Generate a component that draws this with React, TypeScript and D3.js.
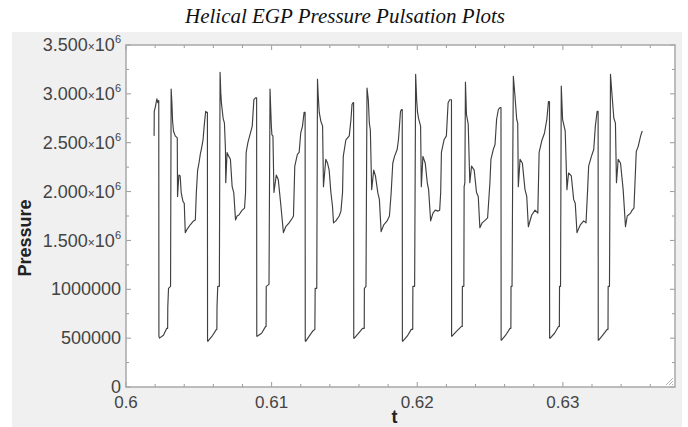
import React from "react";
import * as d3 from "d3";

type Pt = [number, number];

// Helical EGP pressure samples, [t (s), pressure (Pa)], grouped per pulsation cycle
const cycle0: Pt[] = [[0.60193,2.57e6],[0.60194,2.82e6],[0.60202,2.87e6],[0.60212,2.95e6],[0.60218,2.91e6],[0.60223,2.93e6],[0.60225,2.93e6]];
const cycle1: Pt[] = [[0.60226,0.52e6],[0.60230,0.50e6],[0.60257,0.53e6],[0.60280,0.60e6],[0.60286,0.60e6],[0.60287,0.82e6],[0.60292,1.01e6],[0.60306,1.03e6],[0.60310,3.05e6],[0.60315,2.92e6],[0.60320,2.72e6],[0.60326,2.62e6],[0.60338,2.57e6],[0.60352,2.55e6],[0.60354,1.95e6],[0.60363,2.17e6],[0.60372,2.16e6],[0.60379,1.99e6],[0.60391,1.90e6],[0.60400,1.88e6],[0.60407,1.58e6],[0.60418,1.61e6],[0.60441,1.66e6],[0.60464,1.70e6],[0.60476,1.71e6],[0.60483,1.99e6],[0.60492,2.22e6],[0.60501,2.29e6],[0.60510,2.38e6],[0.60517,2.43e6],[0.60529,2.53e6],[0.60538,2.69e6],[0.60547,2.82e6],[0.60556,2.81e6],[0.60559,2.81e6]];
const cycle2: Pt[] = [[0.60560,0.47e6],[0.60563,0.47e6],[0.60591,0.52e6],[0.60621,0.59e6],[0.60624,0.59e6],[0.60625,0.82e6],[0.60630,1.03e6],[0.60641,1.03e6],[0.60646,3.22e6],[0.60651,3.01e6],[0.60655,2.91e6],[0.60667,2.75e6],[0.60676,2.70e6],[0.60683,2.43e6],[0.60685,2.09e6],[0.60694,2.40e6],[0.60706,2.36e6],[0.60717,2.33e6],[0.60729,2.05e6],[0.60740,1.99e6],[0.60752,1.71e6],[0.60763,1.75e6],[0.60775,1.76e6],[0.60798,1.81e6],[0.60814,1.83e6],[0.60821,1.99e6],[0.60825,2.40e6],[0.60837,2.50e6],[0.60851,2.58e6],[0.60867,2.67e6],[0.60878,2.94e6],[0.60890,2.96e6],[0.60897,2.96e6]];
const cycle3: Pt[] = [[0.60898,0.52e6],[0.60901,0.52e6],[0.60931,0.55e6],[0.60959,0.62e6],[0.60962,0.62e6],[0.60963,1.03e6],[0.60982,1.05e6],[0.60989,3.05e6],[0.60998,2.67e6],[0.61002,2.58e6],[0.61009,2.57e6],[0.61016,1.99e6],[0.61032,2.17e6],[0.61046,2.12e6],[0.61062,1.88e6],[0.61081,1.58e6],[0.61097,1.64e6],[0.61120,1.68e6],[0.61143,1.73e6],[0.61150,1.75e6],[0.61159,2.26e6],[0.61177,2.38e6],[0.61189,2.40e6],[0.61200,2.60e6],[0.61212,2.67e6],[0.61223,2.81e6],[0.61230,2.81e6]];
const cycle4: Pt[] = [[0.61231,0.47e6],[0.61235,0.47e6],[0.61258,0.52e6],[0.61281,0.57e6],[0.61297,0.59e6],[0.61299,1.01e6],[0.61310,1.01e6],[0.61315,3.15e6],[0.61320,2.98e6],[0.61327,2.81e6],[0.61338,2.72e6],[0.61350,2.67e6],[0.61356,2.05e6],[0.61372,2.33e6],[0.61384,2.29e6],[0.61395,2.22e6],[0.61407,1.99e6],[0.61418,1.85e6],[0.61425,1.68e6],[0.61441,1.70e6],[0.61464,1.75e6],[0.61476,1.80e6],[0.61487,1.99e6],[0.61492,2.36e6],[0.61510,2.53e6],[0.61533,2.57e6],[0.61545,2.74e6],[0.61552,2.89e6],[0.61559,2.91e6],[0.61563,2.91e6]];
const cycle5: Pt[] = [[0.61564,0.50e6],[0.61568,0.50e6],[0.61596,0.55e6],[0.61625,0.60e6],[0.61636,0.60e6],[0.61637,1.01e6],[0.61648,1.03e6],[0.61655,3.06e6],[0.61664,2.94e6],[0.61671,2.70e6],[0.61678,2.63e6],[0.61687,2.02e6],[0.61701,2.22e6],[0.61713,2.16e6],[0.61729,1.99e6],[0.61740,1.92e6],[0.61752,1.59e6],[0.61770,1.66e6],[0.61793,1.70e6],[0.61809,1.75e6],[0.61821,1.99e6],[0.61832,2.29e6],[0.61844,2.36e6],[0.61862,2.43e6],[0.61871,2.53e6],[0.61885,2.82e6],[0.61892,2.84e6],[0.61897,2.84e6]];
const cycle6: Pt[] = [[0.61898,0.47e6],[0.61901,0.47e6],[0.61931,0.52e6],[0.61959,0.59e6],[0.61969,0.59e6],[0.61970,1.03e6],[0.61982,1.03e6],[0.61989,3.20e6],[0.61996,2.94e6],[0.62002,2.81e6],[0.62009,2.75e6],[0.62023,2.67e6],[0.62028,2.05e6],[0.62039,2.36e6],[0.62055,2.29e6],[0.62069,2.09e6],[0.62078,2.02e6],[0.62092,1.70e6],[0.62108,1.78e6],[0.62124,1.81e6],[0.62143,1.80e6],[0.62154,1.81e6],[0.62161,1.99e6],[0.62166,2.40e6],[0.62184,2.53e6],[0.62200,2.57e6],[0.62212,2.91e6],[0.62223,2.94e6],[0.62235,2.94e6]];
const cycle7: Pt[] = [[0.62236,0.52e6],[0.62239,0.52e6],[0.62269,0.57e6],[0.62304,0.62e6],[0.62309,0.62e6],[0.62310,1.03e6],[0.62320,1.03e6],[0.62322,2.05e6],[0.62327,2.09e6],[0.62331,3.12e6],[0.62338,2.79e6],[0.62350,2.69e6],[0.62361,2.09e6],[0.62373,2.26e6],[0.62391,2.22e6],[0.62407,1.99e6],[0.62419,1.95e6],[0.62430,1.63e6],[0.62446,1.68e6],[0.62469,1.71e6],[0.62483,1.73e6],[0.62499,2.09e6],[0.62506,2.33e6],[0.62522,2.43e6],[0.62534,2.48e6],[0.62545,2.74e6],[0.62557,2.84e6],[0.62568,2.86e6],[0.62575,2.86e6]];
const cycle8: Pt[] = [[0.62576,0.48e6],[0.62579,0.48e6],[0.62607,0.53e6],[0.62637,0.60e6],[0.62643,0.60e6],[0.62644,1.03e6],[0.62651,1.03e6],[0.62655,2.09e6],[0.62660,3.18e6],[0.62671,2.98e6],[0.62683,2.74e6],[0.62690,2.70e6],[0.62694,2.05e6],[0.62706,2.33e6],[0.62722,2.29e6],[0.62740,2.02e6],[0.62752,1.95e6],[0.62763,1.64e6],[0.62786,1.76e6],[0.62809,1.81e6],[0.62828,1.78e6],[0.62837,2.40e6],[0.62855,2.52e6],[0.62874,2.60e6],[0.62890,2.74e6],[0.62901,2.92e6],[0.62908,2.92e6]];
const cycle9: Pt[] = [[0.62909,0.50e6],[0.62913,0.50e6],[0.62943,0.55e6],[0.62970,0.62e6],[0.62976,0.62e6],[0.62977,1.03e6],[0.62984,1.03e6],[0.62989,3.08e6],[0.62998,2.74e6],[0.63016,2.62e6],[0.63028,2.02e6],[0.63039,2.19e6],[0.63058,2.16e6],[0.63074,1.92e6],[0.63085,1.88e6],[0.63097,1.58e6],[0.63120,1.66e6],[0.63143,1.70e6],[0.63159,1.68e6],[0.63170,2.02e6],[0.63177,2.26e6],[0.63196,2.36e6],[0.63212,2.43e6],[0.63223,2.67e6],[0.63235,2.82e6],[0.63242,2.82e6]];
const cycle10: Pt[] = [[0.63243,0.48e6],[0.63246,0.48e6],[0.63274,0.53e6],[0.63304,0.59e6],[0.63310,0.59e6],[0.63311,1.03e6],[0.63320,1.03e6],[0.63327,3.20e6],[0.63338,2.98e6],[0.63350,2.75e6],[0.63361,2.70e6],[0.63368,2.09e6],[0.63380,2.33e6],[0.63396,2.29e6],[0.63414,2.02e6],[0.63430,1.64e6],[0.63442,1.75e6],[0.63465,1.78e6],[0.63476,1.81e6],[0.63488,1.83e6],[0.63504,2.41e6],[0.63517,2.46e6],[0.63534,2.57e6],[0.63545,2.62e6]];

const xDomain: [number, number] = [0.6, 0.6377];
const yDomain: [number, number] = [0, 3.5e6];
const xMajorTicks = [0.6, 0.61, 0.62, 0.63];
const xTickLabels = ["0.6", "0.61", "0.62", "0.63"];
const yMajorTicks = [0, 500000, 1000000, 1500000, 2000000, 2500000, 3000000, 3500000];
// [mantissa, exponent] — exponent empty means plain label
const yTickLabels: [string, string][] = [
  ["0", ""], ["500000", ""], ["1000000", ""], ["1.500", "6"], ["2.000", "6"],
  ["2.500", "6"], ["3.000", "6"], ["3.500", "6"],
];
const title = "Helical EGP Pressure Pulsation Plots";
const xLabel = "t";
const yLabel = "Pressure";

const W = 688;
const H = 427;
const L = 126, R = 675, T = 45, B = 387;

export default function App() {
  const data: Pt[] = [
    ...cycle0, ...cycle1, ...cycle2, ...cycle3, ...cycle4, ...cycle5,
    ...cycle6, ...cycle7, ...cycle8, ...cycle9, ...cycle10,
  ];
  const x = d3.scaleLinear().domain(xDomain).range([L, R]);
  const y = d3.scaleLinear().domain(yDomain).range([B, T]);
  const line = d3.line<Pt>().x((d) => x(d[0])).y((d) => y(d[1]));

  const xMinor = d3.range(0.6, 0.6377, 0.002).filter(
    (v) => !xMajorTicks.some((m) => Math.abs(m - v) < 1e-6)
  );
  const yMinor = d3.range(250000, 3500000, 500000);

  const tickColor = "#9a9a9a";
  const labelColor = "#444";
  const font = "'Liberation Sans', Arial, sans-serif";

  return (
    <svg
      width={W}
      height={H}
      style={{ position: "absolute", left: 0, top: 0, background: "#fff" }}
    >
      <rect x={12} y={32} width={670} height={H - 32} fill="#f0f0f0" />
      <text
        x={345}
        y={23}
        textAnchor="middle"
        fontFamily="'Liberation Serif', 'Times New Roman', serif"
        fontStyle="italic"
        fontSize={21}
        fill="#111"
      >
        {title}
      </text>
      <rect x={L} y={T} width={R - L} height={B - T} fill="#fff" />
      <clipPath id="plotclip">
        <rect x={L} y={T} width={R - L} height={B - T} />
      </clipPath>
      <path
        d={line(data) || ""}
        fill="none"
        stroke="#3f3f3f"
        strokeWidth={1.15}
        strokeLinejoin="round"
        clipPath="url(#plotclip)"
      />
      {/* ticks */}
      <g stroke={tickColor} strokeWidth={1}>
        {xMajorTicks.map((v) => (
          <g key={"xm" + v}>
            <line x1={x(v)} x2={x(v)} y1={B} y2={B - 5} />
            <line x1={x(v)} x2={x(v)} y1={T} y2={T + 5} />
          </g>
        ))}
        {xMinor.map((v) => (
          <g key={"xn" + v}>
            <line x1={x(v)} x2={x(v)} y1={B} y2={B - 3} />
            <line x1={x(v)} x2={x(v)} y1={T} y2={T + 3} />
          </g>
        ))}
        {yMajorTicks.map((v) => (
          <g key={"ym" + v}>
            <line x1={L} x2={L + 5} y1={y(v)} y2={y(v)} />
            <line x1={R} x2={R - 5} y1={y(v)} y2={y(v)} />
          </g>
        ))}
        {yMinor.map((v) => (
          <g key={"yn" + v}>
            <line x1={L} x2={L + 3} y1={y(v)} y2={y(v)} />
            <line x1={R} x2={R - 3} y1={y(v)} y2={y(v)} />
          </g>
        ))}
      </g>
      <rect
        x={L}
        y={T}
        width={R - L}
        height={B - T}
        fill="none"
        stroke="#a8a8a8"
        strokeWidth={1.5}
      />
      {/* resize grip */}
      <g stroke="#b0b0b0" strokeWidth={1}>
        <line x1={R - 9} y1={B - 2} x2={R - 2} y2={B - 9} />
        <line x1={R - 6} y1={B - 2} x2={R - 2} y2={B - 6} />
        <line x1={R - 3} y1={B - 2} x2={R - 2} y2={B - 3} />
      </g>
      {/* x labels */}
      {xMajorTicks.map((v, i) => (
        <text
          key={"xl" + v}
          x={x(v)}
          y={408}
          textAnchor="middle"
          fontFamily={font}
          fontSize={17}
          fill={labelColor}
        >
          {xTickLabels[i]}
        </text>
      ))}
      {/* y labels */}
      {yMajorTicks.map((v, i) => {
        const [m, e] = yTickLabels[i];
        return (
          <text
            key={"yl" + v}
            x={121}
            y={y(v)}
            dy="0.34em"
            textAnchor="end"
            fontFamily={font}
            fontSize={18}
            fill={labelColor}
          >
            {e ? (
              <>
                {m}
                <tspan fontSize={12}>×</tspan>
                10
                <tspan fontSize={11} dy={-8}>
                  {e}
                </tspan>
              </>
            ) : (
              m
            )}
          </text>
        );
      })}
      <text
        x={(L + R) / 2 - 6}
        y={423}
        textAnchor="middle"
        fontFamily={font}
        fontWeight="bold"
        fontSize={18}
        fill="#222"
      >
        {xLabel}
      </text>
      <text
        transform={`translate(31, 238) rotate(-90)`}
        textAnchor="middle"
        fontFamily={font}
        fontWeight="bold"
        fontSize={18}
        fill="#222"
      >
        {yLabel}
      </text>
    </svg>
  );
}
